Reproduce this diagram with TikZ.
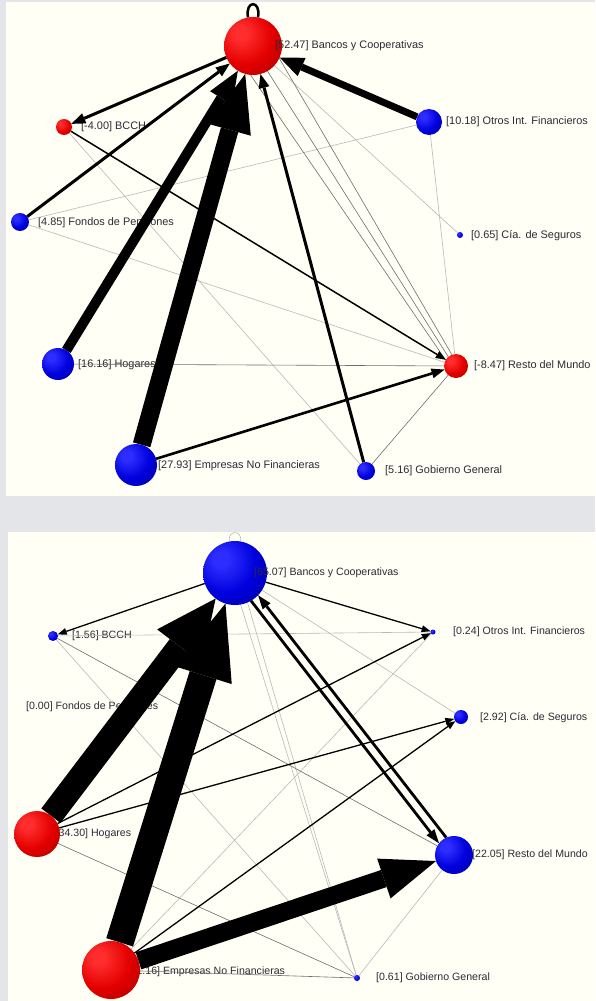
\documentclass[tikz,border=0pt]{standalone}
\usepackage{fontspec}
\setmainfont{Liberation Sans}
\usetikzlibrary{arrows.meta}
\definecolor{bgray}{RGB}{228,229,233}
\definecolor{panel}{RGB}{255,255,246}
\definecolor{txt}{RGB}{45,42,55}
\definecolor{lgray}{RGB}{185,185,185}
\definecolor{mgray}{RGB}{110,110,110}
\definecolor{rA}{RGB}{255,45,45}
\definecolor{rB}{RGB}{228,0,0}
\definecolor{rC}{RGB}{160,0,0}
\definecolor{rD}{RGB}{80,0,0}
\definecolor{bA}{RGB}{45,45,255}
\definecolor{bB}{RGB}{0,0,222}
\definecolor{bC}{RGB}{0,0,150}
\definecolor{bD}{RGB}{0,0,72}
\pgfdeclareradialshading{redsph}{\pgfpoint{-12bp}{12bp}}{color(0bp)=(rA); color(6bp)=(rA); color(24bp)=(rB); color(46bp)=(rC); color(64bp)=(rD); color(80bp)=(rD)}
\pgfdeclareradialshading{bluesph}{\pgfpoint{-12bp}{12bp}}{color(0bp)=(bA); color(6bp)=(bA); color(24bp)=(bB); color(46bp)=(bC); color(64bp)=(bD); color(80bp)=(bD)}
\pgfdeclarelayer{bglayer}
\pgfdeclarelayer{fglayer}
\pgfdeclarelayer{toplayer}
\pgfsetlayers{bglayer,main,fglayer,toplayer}
\tikzset{
  rball/.style={circle, inner sep=0pt, outer sep=0pt, minimum size=#1, shade, shading=redsph},
  bball/.style={circle, inner sep=0pt, outer sep=0pt, minimum size=#1, shade, shading=bluesph},
  labt/.style={anchor=west, inner sep=0pt, text=txt, font=\fontsize{10.9}{12}\selectfont},
  labb/.style={anchor=west, inner sep=0pt, text=txt, font=\fontsize{10.6}{12}\selectfont},
  light/.style={draw=lgray, line width=0.6},
  midline/.style={draw=mgray, line width=0.6},
  thin/.style={draw=black, line width=1.3, -{Triangle[length=9pt,width=7pt,line width=0pt]}},
}
\begin{document}
\begin{tikzpicture}[x=1pt,y=1pt]
\useasboundingbox (0,0) rectangle (595,-1001);
\begin{pgfonlayer}{bglayer}
\fill[bgray] (0,0) rectangle (595,-1001);
\fill[panel] (6,-2) rectangle (595,-496);
\fill[panel] (8,-532) rectangle (595,-1001);
% top labels
\node[labt] (tBCl) at (81,-127) {[-4.00] BCCH};
\node[labt] (tOl) at (446,-122) {[10.18] Otros Int. Financieros};
\node[labt] (tFl) at (38,-223) {[4.85] Fondos de Pensiones};
\node[labt] (tCl) at (471,-236) {[0.65] Cía. de Seguros};
\node[labt] (tHl) at (78,-365) {[16.16] Hogares};
\node[labt] (tRl) at (474,-366) {[-8.47] Resto del Mundo};
\node[labt] (tEl) at (158,-466) {[27.93] Empresas No Financieras};
\node[labt] (tGl) at (385,-471) {[5.16] Gobierno General};
% bottom labels
\node[labb] (bBCl) at (72,-636) {[1.56] BCCH};
\node[labb] (bOl) at (453,-632) {[0.24] Otros Int. Financieros};
\node[labb] (bFl) at (26,-707) {[0.00] Fondos de Pensiones};
\node[labb] (bCl) at (480,-718) {[2.92] Cía. de Seguros};
\node[labb] (bHl) at (52,-834) {[-34.30] Hogares};
\node[labb] (bRl) at (472,-855) {[22.05] Resto del Mundo};
\node[labb] (bEl) at (124,-972) {[-51.16] Empresas No Financieras};
\node[labb] (bGl) at (376,-978) {[0.61] Gobierno General};
\end{pgfonlayer}
\begin{pgfonlayer}{fglayer}
% top nodes
\node[rball=58] (tB) at (253,-46) {};
\node[rball=16] (tBC) at (64,-127) {};
\node[bball=26] (tO) at (429,-122) {};
\node[bball=18] (tF) at (20,-222) {};
\node[bball=6] (tC) at (460,-235) {};
\node[bball=32] (tH) at (58,-364) {};
\node[rball=24] (tR) at (456,-366) {};
\node[bball=42] (tE) at (136,-465) {};
\node[bball=18] (tG) at (366,-471) {};
% bottom nodes
\node[bball=64] (bB) at (235,-573) {};
\node[bball=10] (bBC) at (53,-636) {};
\node[bball=5] (bO) at (433,-632) {};
\node[bball=14] (bC) at (461,-717) {};
\node[rball=46] (bH) at (37,-834) {};
\node[bball=38] (bR) at (454,-855) {};
\node[rball=58] (bE) at (111,-970) {};
\node[bball=6] (bG) at (357,-978) {};
\end{pgfonlayer}
\begin{pgfonlayer}{toplayer}
\node[labt] (tBl) at (275,-46) {[52.47] Bancos y Cooperativas};
\node[labb] (bBl) at (254,-573) {[65.07] Bancos y Cooperativas};
\end{pgfonlayer}
% ---------- top edges ----------
\draw[light] (tF) -- (tO);
\draw[light] (tF) -- (tR);
\draw[light] (tBC) -- (tG);
\draw[light] (tO) -- (tR);
\draw[light] (tB) -- (tC);
\draw[midline] (tH) -- (tR);
\draw[midline] (tG) -- (tR);
\draw[midline] (tB.265) -- (tR.150);
\draw[midline] (tB.300) -- (tR.130);
\draw[midline] (tB.335) -- (tR.110);
\draw[line width=1.5, -{Triangle[length=10pt,width=8pt,line width=0pt]}] (tBC) -- (tR);
\draw[line width=2.6, -{Triangle[length=13pt,width=10pt,line width=0pt]}] (tE) -- (tR);
\draw[line width=3, -{Triangle[length=14pt,width=11pt,line width=0pt]}] (tB) -- (tBC);
\draw[line width=3, -{Triangle[length=14pt,width=11pt,line width=0pt]}] (tF) -- (tB);
\draw[line width=3, -{Triangle[length=14pt,width=11pt,line width=0pt]}] (tG) -- (tB);
\draw[line width=7, -{Triangle[length=24pt,width=20pt,line width=0pt]}] (tO) -- (tB);
\draw[line width=10, -{Triangle[length=32pt,width=26pt,line width=0pt]}] (tH) -- (tB);
\draw[line width=18, -{Triangle[length=58pt,width=44pt,line width=0pt]}] (tE) -- (tB);
\draw[line width=2.5] (tB.100) .. controls +(100:18) and +(80:18) .. (tB.80);
% ---------- bottom edges ----------
\draw[light] (bB.100) .. controls +(100:12) and +(80:12) .. (bB.80);
\draw[light] (bBC) -- (bO);
\draw[light] (bB) -- (bC);
\draw[light] (bE) -- (bO);
\draw[light] (bB.280) -- (bG);
\draw[light] (bB.293) -- (bG);
\draw[light] (bBC) -- (bG);
\draw[midline] (bBC) -- (bR);
\draw[midline] (bH) -- (bG);
\draw[light] (bR) -- (bG);
\draw[midline] (bE) -- (bG);
\draw[thin] (bB) -- (bBC);
\draw[thin] (bB) -- (bO);
\draw[thin] (bH) -- (bO);
\draw[thin] (bH) -- (bC);
\draw[thin] (bE) -- (bC);
\draw[line width=2.8, -{Triangle[length=14pt,width=10pt,line width=0pt]}] (bR.114) -- (bB.316);
\draw[line width=2.8, -{Triangle[length=14pt,width=10pt,line width=0pt]}] (bB.300) -- (bR.142);
\draw[line width=18, -{Triangle[length=55pt,width=42pt,line width=0pt]}] (bE) -- (bR);
\draw[line width=24, -{Triangle[length=60pt,width=56pt,line width=0pt]}] (bH) -- (bB);
\draw[line width=28, -{Triangle[length=75pt,width=60pt,line width=0pt]}] (bE) -- (bB);
\end{tikzpicture}
\end{document}
